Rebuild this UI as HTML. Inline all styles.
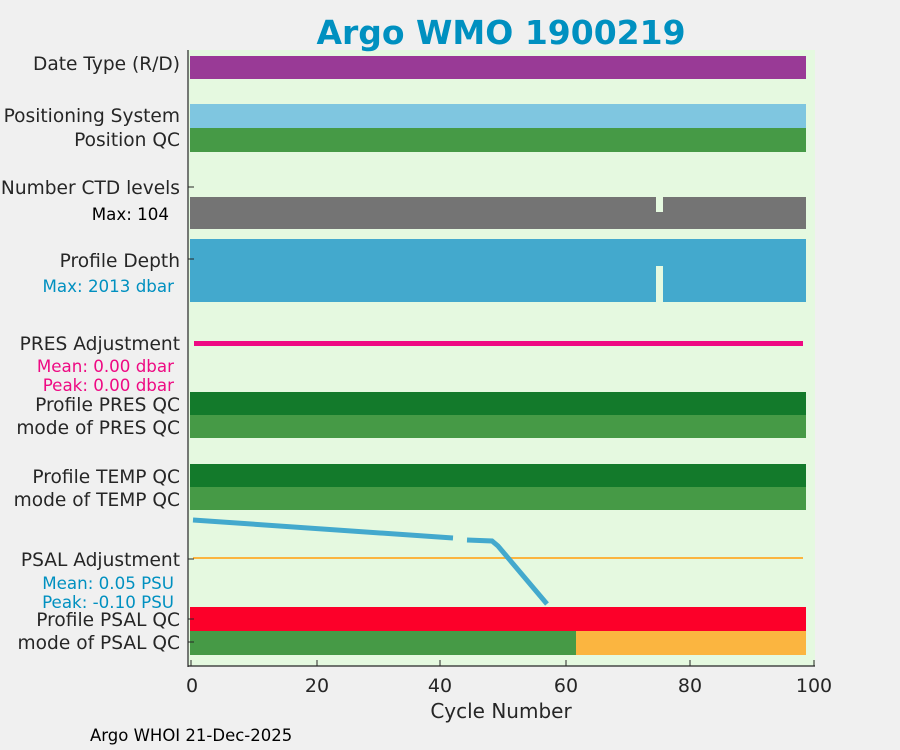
<!DOCTYPE html>
<html><head><meta charset="utf-8"><style>
body{margin:0;background:#f0f0f0;}
svg{display:block;font-family:"DejaVu Sans","Liberation Sans",sans-serif;}
</style></head><body>
<svg width="900" height="750" viewBox="0 0 900 750">
<rect x="0" y="0" width="900" height="750" fill="#f0f0f0"/>
<rect x="188" y="50" width="627" height="616" fill="#e5f9e0"/>
<text x="501" y="44" text-anchor="middle" font-size="33" font-weight="bold" fill="#0090c0">Argo WMO 1900219</text>
<rect x="190" y="56" width="616" height="23" fill="#993a96"/>
<rect x="190" y="104" width="616" height="24" fill="#7fc6e0"/>
<rect x="190" y="128" width="616" height="24" fill="#469a46"/>
<rect x="190" y="197" width="616" height="32" fill="#747474"/>
<rect x="656" y="197" width="7" height="15" fill="#e5f9e0"/>
<rect x="190" y="239" width="616" height="63" fill="#43a9cd"/>
<rect x="656" y="266" width="7" height="37" fill="#e5f9e0"/>
<rect x="194" y="341" width="609" height="5" fill="#ee0a83"/>
<rect x="190" y="392" width="616" height="23" fill="#137a2b"/>
<rect x="190" y="415" width="616" height="23" fill="#469a46"/>
<rect x="190" y="464" width="616" height="23" fill="#137a2b"/>
<rect x="190" y="487" width="616" height="23" fill="#469a46"/>
<line x1="193" y1="558" x2="803" y2="558" stroke="#fbb540" stroke-width="2"/>
<polyline points="193,520 453,538" fill="none" stroke="#43a9cd" stroke-width="5"/>
<polyline points="467,540 492,541 498,546 547,604" fill="none" stroke="#43a9cd" stroke-width="5"/>
<rect x="190" y="607" width="616" height="24" fill="#fc0029"/>
<rect x="190" y="631" width="386" height="24" fill="#469a46"/>
<rect x="576" y="631" width="230" height="24" fill="#fbb540"/>
<line x1="188" y1="50" x2="188" y2="667" stroke="#262626" stroke-width="1.2"/>
<line x1="188" y1="666" x2="815" y2="666" stroke="#262626" stroke-width="1.2"/>
<g stroke="#262626">
<line x1="191" y1="666" x2="191" y2="660"/><line x1="317" y1="666" x2="317" y2="660"/><line x1="440" y1="666" x2="440" y2="660"/><line x1="566" y1="666" x2="566" y2="660"/><line x1="690" y1="666" x2="690" y2="660"/><line x1="814" y1="666" x2="814" y2="660"/>
<line x1="188" y1="187" x2="194" y2="187"/><line x1="188" y1="259" x2="194" y2="259"/><line x1="188" y1="559" x2="194" y2="559"/><line x1="188" y1="619" x2="194" y2="619"/><line x1="188" y1="642" x2="194" y2="642"/>
</g>
<g font-size="19" fill="#262626" text-anchor="middle">
<text x="192" y="692">0</text><text x="317" y="692">20</text><text x="440" y="692">40</text><text x="566" y="692">60</text><text x="690" y="692">80</text><text x="814" y="692">100</text>
<text x="501" y="718" font-size="20">Cycle Number</text>
</g>
<g font-size="18.6" fill="#262626" text-anchor="end">
<text x="180" y="70">Date Type (R/D)</text>
<text x="180" y="122">Positioning System</text>
<text x="180" y="146">Position QC</text>
<text x="180" y="194">Number CTD levels</text>
<text x="180" y="267">Profile Depth</text>
<text x="180" y="350">PRES Adjustment</text>
<text x="180" y="411">Profile PRES QC</text>
<text x="180" y="434">mode of PRES QC</text>
<text x="180" y="483">Profile TEMP QC</text>
<text x="180" y="506">mode of TEMP QC</text>
<text x="180" y="566">PSAL Adjustment</text>
<text x="180" y="626">Profile PSAL QC</text>
<text x="180" y="649">mode of PSAL QC</text>
</g>
<g font-size="16.7" text-anchor="end">
<text x="169" y="220" fill="#000">Max: 104</text>
<text x="174" y="292" fill="#0090c0">Max: 2013 dbar</text>
<text x="174" y="372" fill="#ee0a83">Mean: 0.00 dbar</text>
<text x="174" y="391" fill="#ee0a83">Peak: 0.00 dbar</text>
<text x="174" y="589" fill="#0090c0">Mean: 0.05 PSU</text>
<text x="174" y="608" fill="#0090c0">Peak: -0.10 PSU</text>
</g>
<text x="90" y="741" font-size="16.5" fill="#000">Argo WHOI 21-Dec-2025</text>
</svg>
</body></html>
